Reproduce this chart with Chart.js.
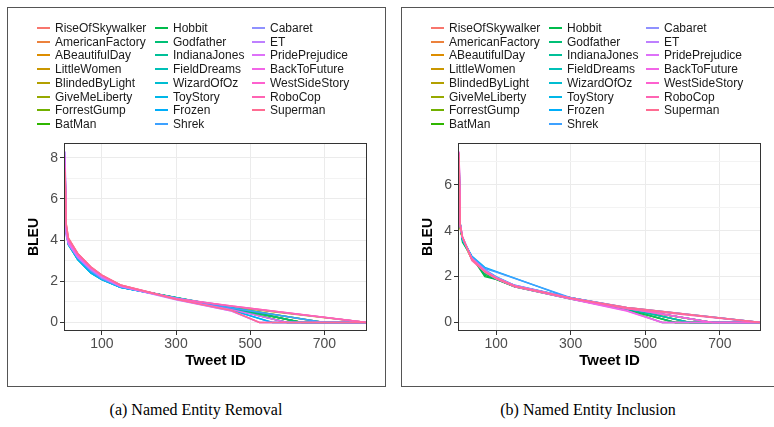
<!DOCTYPE html>
<html>
<head>
<meta charset="utf-8">
<script src="https://cdn.jsdelivr.net/npm/chart.js@4"></script>
<style>
  body { margin: 0; background: #fff; }
  #page { position: relative; width: 774px; height: 427px; overflow: hidden; font-family: "Liberation Sans", Arial, sans-serif; }
  .panel { position: absolute; top: 7px; width: 379px; height: 380px; border: 1.5px solid #555; box-sizing: border-box; }
  canvas { position: absolute; }
  .key { position: absolute; height: 2px; width: 13px; }
  .lab { position: absolute; font-size: 12px; color: #1a1a1a; line-height: 14px; white-space: nowrap; }
  .caption { position: absolute; top: 401px; font-family: "Liberation Serif", "Times New Roman", serif; font-size: 16px; color: #000; text-align: center; width: 380px; }
</style>
</head>
<body>
<div id="page">
  <div class="panel" style="left:7px"></div>
  <div class="panel" style="left:401px"></div>
  <canvas id="chartA" width="372" height="252" style="left:8px; top:130px"></canvas>
  <canvas id="chartB" width="372" height="252" style="left:402px; top:130px"></canvas>
  <div id="legendA"></div>
  <div id="legendB"></div>
  <div class="caption" style="left:6px">(a) Named Entity Removal</div>
  <div class="caption" style="left:398px">(b) Named Entity Inclusion</div>
</div>
<script>
const movies = [
  "RiseOfSkywalker", "AmericanFactory", "ABeautifulDay", "LittleWomen", "BlindedByLight",
  "GiveMeLiberty", "ForrestGump", "BatMan", "Hobbit", "Godfather", "IndianaJones",
  "FieldDreams", "WizardOfOz", "ToyStory", "Frozen", "Shrek", "Cabaret", "ET",
  "PridePrejudice", "BackToFuture", "WestSideStory", "RoboCop", "Superman"
];

const xBreaks = [100, 300, 500, 700];
const yBreaksA = [0, 2, 4, 6, 8];
const yMinorA = [1, 3, 5, 7];
const yBreaksB = [0, 2, 4, 6];
const yMinorB = [1, 3, 5, 7];

// (a) Named Entity Removal
const tweetIdsA = [1, 4, 10, 35, 70, 100, 150, 300, 450, 525, 560, 600, 640, 700, 815];
const N = null;
const bleuRemoval = [
  [7.2, 4.8, 4.1, 3.35, 2.7, 2.3, 1.82, 1.15, 0.78, N, N, N, N, N, 0],
  [6.8, 4.6, 3.95, 3.25, 2.6, 2.22, 1.78, 1.17, 0.72, N, N, N, N, 0, 0],
  [7.0, 4.5, 3.9, 3.2, 2.6, 2.2, 1.76, 1.18, 0.7, N, N, N, 0, 0, 0],
  [7.4, 4.6, 4.0, 3.25, 2.65, 2.22, 1.77, 1.16, 0.75, N, N, N, N, N, 0],
  [6.9, 4.5, 3.9, 3.15, 2.55, 2.18, 1.75, 1.17, 0.7, N, N, N, N, 0, 0],
  [7.1, 4.4, 3.85, 3.15, 2.55, 2.15, 1.74, 1.18, 0.68, N, N, N, 0, 0, 0],
  [7.0, 4.5, 3.85, 3.1, 2.5, 2.12, 1.72, 1.2, 0.7, N, N, N, 0, 0, 0],
  [6.9, 4.4, 3.8, 3.1, 2.5, 2.12, 1.72, 1.2, 0.66, N, N, 0, 0, 0, 0],
  [7.2, 4.5, 3.85, 3.15, 2.5, 2.12, 1.73, 1.2, 0.72, N, N, N, 0, 0, 0],
  [7.0, 4.4, 3.8, 3.1, 2.45, 2.1, 1.72, 1.21, 0.7, N, N, N, 0, 0, 0],
  [7.3, 4.5, 3.8, 3.05, 2.45, 2.1, 1.72, 1.2, 0.66, N, N, 0, 0, 0, 0],
  [7.1, 4.4, 3.75, 3.05, 2.4, 2.08, 1.7, 1.2, 0.72, N, N, N, N, 0, 0],
  [7.0, 4.4, 3.8, 3.05, 2.4, 2.08, 1.7, 1.19, 0.65, N, N, 0, 0, 0, 0],
  [7.5, 4.3, 3.8, 3.05, 2.4, 2.08, 1.7, 1.18, 0.6, N, 0, 0, 0, 0, 0],
  [7.2, 4.4, 3.8, 3.1, 2.45, 2.1, 1.7, 1.17, 0.6, N, 0, 0, 0, 0, 0],
  [7.6, 4.5, 3.9, 3.15, 2.5, 2.12, 1.72, 1.18, 0.7, N, N, N, N, 0, 0],
  [7.8, 4.4, 3.85, 3.15, 2.55, 2.15, 1.75, 1.19, 0.78, N, N, N, N, N, 0],
  [8.3, 4.2, 3.8, 3.15, 2.6, 2.2, 1.76, 1.1, 0.55, 0, 0, 0, 0, 0, 0],
  [8.1, 4.3, 3.85, 3.2, 2.6, 2.22, 1.77, 1.12, 0.55, 0, 0, 0, 0, 0, 0],
  [7.7, 4.6, 3.95, 3.25, 2.65, 2.25, 1.78, 1.14, 0.62, N, N, 0, 0, 0, 0],
  [7.5, 4.7, 4.0, 3.3, 2.65, 2.27, 1.8, 1.15, 0.8, N, N, N, N, N, 0],
  [7.4, 4.7, 4.05, 3.35, 2.7, 2.3, 1.82, 1.15, 0.8, N, N, N, N, N, 0],
  [7.3, 4.8, 4.1, 3.35, 2.7, 2.3, 1.82, 1.12, 0.58, 0, 0, 0, 0, 0, 0]
];

// (b) Named Entity Inclusion
const tweetIdsB = [1, 4, 10, 35, 70, 100, 150, 300, 450, 545, 580, 620, 680, 810];
const bleuInclusion = [
  [6.6, 4.2, 3.7, 2.8, 2.25, 1.95, 1.6, 1.08, 0.65, N, N, N, N, 0],
  [6.5, 4.1, 3.65, 2.75, 2.2, 1.95, 1.6, 1.08, 0.62, N, N, N, 0, 0],
  [6.7, 4.2, 3.7, 2.8, 2.2, 1.95, 1.58, 1.07, 0.6, N, N, 0, 0, 0],
  [6.4, 4.1, 3.6, 2.75, 2.2, 1.92, 1.58, 1.08, 0.62, N, N, N, 0, 0],
  [6.6, 4.2, 3.65, 2.8, 2.25, 1.95, 1.6, 1.07, 0.6, N, N, 0, 0, 0],
  [6.5, 4.1, 3.6, 2.75, 2.2, 1.9, 1.57, 1.06, 0.6, N, N, N, 0, 0],
  [6.8, 4.2, 3.6, 2.8, 2.15, 1.9, 1.56, 1.05, 0.58, N, 0, 0, 0, 0],
  [6.9, 4.3, 3.6, 2.85, 2.05, 1.88, 1.55, 1.03, 0.55, N, 0, 0, 0, 0],
  [6.8, 4.3, 3.5, 2.85, 2.0, 1.88, 1.55, 1.02, 0.55, 0, 0, 0, 0, 0],
  [6.9, 4.3, 3.6, 2.85, 2.1, 1.9, 1.57, 1.05, 0.58, N, 0, 0, 0, 0],
  [6.7, 4.2, 3.65, 2.8, 2.2, 1.93, 1.58, 1.06, 0.6, N, N, 0, 0, 0],
  [6.6, 4.2, 3.6, 2.8, 2.2, 1.92, 1.58, 1.06, 0.6, N, N, 0, 0, 0],
  [6.9, 4.3, 3.6, 2.8, 2.25, 1.95, 1.6, 1.07, 0.62, N, N, N, 0, 0],
  [7.0, 4.3, 3.7, 2.85, 2.3, 2.0, 1.62, 1.08, 0.63, N, N, N, N, 0],
  [7.1, 4.3, 3.6, 2.9, 2.4, N, N, 1.05, 0.62, N, N, N, 0, 0],
  [7.0, 4.3, 3.7, 2.85, 2.35, 2.2, N, 1.08, 0.64, N, N, N, N, 0],
  [7.2, 4.2, 3.7, 2.8, 2.3, 1.98, 1.62, 1.08, 0.65, N, N, N, N, 0],
  [7.3, 4.2, 3.7, 2.8, 2.25, 1.95, 1.6, 1.07, 0.62, N, N, N, 0, 0],
  [7.4, 4.3, 3.75, 2.75, 2.2, 1.92, 1.58, 1.03, 0.52, 0, 0, 0, 0, 0],
  [7.45, 4.3, 3.7, 2.75, 2.2, 1.9, 1.55, 1.02, 0.5, 0, 0, 0, 0, 0],
  [7.3, 4.2, 3.7, 2.8, 2.25, 1.95, 1.6, 1.06, 0.62, N, N, N, 0, 0],
  [7.4, 4.3, 3.75, 2.7, 2.2, 1.92, 1.57, 1.05, 0.6, N, N, N, N, 0],
  [7.2, 4.2, 3.7, 2.75, 2.2, 1.93, 1.58, 1.06, 0.65, N, N, N, N, 0]
];

// ggplot-style hue palette (polar LUV, c=100, l=65)
function hueColor(h, c, l) {
  const rad = h * Math.PI / 180;
  const u = c * Math.cos(rad), v = c * Math.sin(rad);
  const Xn = 95.047, Yn = 100, Zn = 108.883;
  const Y = l > 8 ? Yn * Math.pow((l + 16) / 116, 3) : Yn * l / 903.3;
  const den = Xn + 15 * Yn + 3 * Zn;
  const up = u / (13 * l) + 4 * Xn / den;
  const vp = v / (13 * l) + 9 * Yn / den;
  const X = 9 * Y * up / (4 * vp);
  const Z = Y * (12 - 3 * up - 20 * vp) / (4 * vp);
  const x = X / 100, y = Y / 100, z = Z / 100;
  const rgb = [
    3.240479 * x - 1.53715 * y - 0.498535 * z,
    -0.969256 * x + 1.875992 * y + 0.041556 * z,
    0.055648 * x - 0.204043 * y + 1.057311 * z
  ];
  const gam = t => t > 0.00304 ? 1.055 * Math.pow(t, 1 / 2.4) - 0.055 : 12.92 * t;
  return "rgb(" + rgb.map(t => Math.round(255 * Math.min(1, Math.max(0, gam(t))))).join(",") + ")";
}
const colors = movies.map((m, i) => hueColor(15 + i * 360 / movies.length, 100, 65));

const framePlugin = {
  id: "frame",
  afterDatasetsDraw(chart) {
    const { ctx, chartArea: a } = chart;
    ctx.save();
    ctx.strokeStyle = "#333";
    ctx.lineWidth = 1;
    ctx.strokeRect(Math.round(a.left) + 0.5, Math.round(a.top) + 0.5, Math.round(a.width) - 1, Math.round(a.height) - 1);
    ctx.restore();
  }
};

function renderPanel(id, ids, series, xMin, xMax, yMin, yMax, yMajor, yMinor) {
  const yAll = yMajor.concat(yMinor).sort((p, q) => p - q);
  const isMajor = v => yMajor.includes(v);
  return new Chart(document.getElementById(id), {
    type: "line",
    data: {
      datasets: series.map((vals, i) => ({
        label: movies[i],
        data: ids.map((x, j) => ({ x: x, y: vals[j] })),
        borderColor: colors[i],
        borderWidth: 1.4,
        pointRadius: 0,
        spanGaps: true,
        tension: 0,
        order: -i,
      })),
    },
    options: {
      responsive: false,
      animation: false,
      events: [],
      layout: { padding: { top: 13, right: 13, left: 0, bottom: 0 } },
      plugins: { legend: { display: false }, tooltip: { enabled: false } },
      scales: {
        x: {
          type: "linear",
          min: xMin,
          max: xMax,
          afterBuildTicks: s => { s.ticks = xBreaks.map(v => ({ value: v })); },
          afterFit: s => { s.height = 51; },
          grid: { color: "#EBEBEB", lineWidth: 1, tickLength: 4, tickColor: "#333" },
          border: { display: false },
          ticks: { color: "#4D4D4D", font: { size: 14, family: "Liberation Sans" }, padding: 1, maxRotation: 0 },
          title: { display: true, text: "Tweet ID", color: "#000", font: { size: 15, weight: "bold", family: "Liberation Sans" }, padding: { top: 0, bottom: 12 } },
        },
        y: {
          min: yMin,
          max: yMax,
          afterBuildTicks: s => { s.ticks = yAll.map(v => ({ value: v })); },
          afterFit: s => { s.width = 56; },
          grid: {
            color: c => isMajor(c.tick.value) ? "#EBEBEB" : "#F3F3F3",
            lineWidth: 1,
            tickLength: 4,
            tickColor: c => isMajor(c.tick.value) ? "#333" : "rgba(0,0,0,0)",
          },
          border: { display: false },
          ticks: {
            color: "#4D4D4D",
            font: { size: 14, family: "Liberation Sans" },
            padding: 2,
            callback: v => isMajor(v) ? String(v) : "",
          },
          title: { display: true, text: "BLEU", color: "#000", font: { size: 14, weight: "bold", family: "Liberation Sans" }, padding: { top: 18, bottom: 0 } },
        },
      },
    },
    plugins: [framePlugin],
  });
}

function renderLegend(id, chart, left) {
  const box = document.getElementById(id);
  const colX = [30, 148, 245];
  chart.data.datasets.forEach((ds, i) => {
    const col = Math.floor(i / 8), row = i % 8;
    const cy = Math.round(28 + row * 13.7);
    const key = document.createElement("div");
    key.className = "key";
    key.style.left = (left + colX[col]) + "px";
    key.style.top = (cy - 1) + "px";
    key.style.backgroundColor = ds.borderColor;
    box.appendChild(key);
    const lab = document.createElement("div");
    lab.className = "lab";
    lab.style.left = (left + colX[col] + 18) + "px";
    lab.style.top = (cy - 7) + "px";
    lab.textContent = ds.label;
    box.appendChild(lab);
  });
}

const chartA = renderPanel("chartA", tweetIdsA, bleuRemoval, -2, 815, -0.415, 8.715, yBreaksA, yMinorA);
const chartB = renderPanel("chartB", tweetIdsB, bleuInclusion, -2, 810, -0.3725, 7.8225, yBreaksB, yMinorB);
renderLegend("legendA", chartA, 7);
renderLegend("legendB", chartB, 401);
</script>
</body>
</html>
